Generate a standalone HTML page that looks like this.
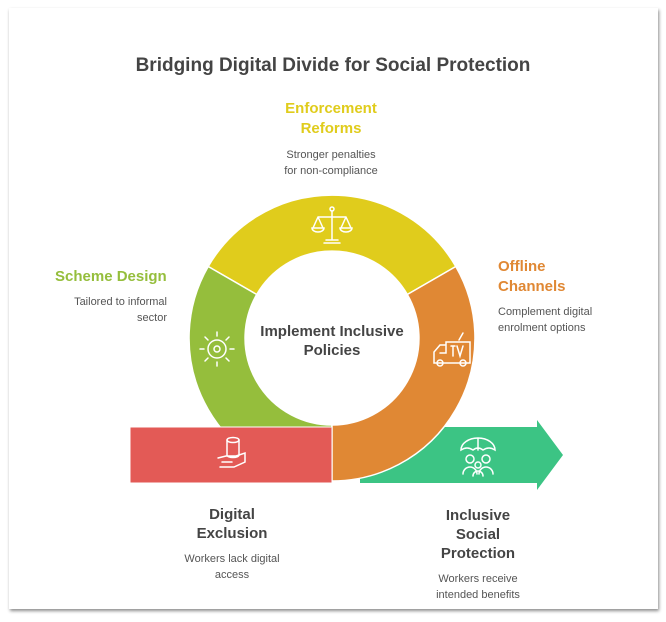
<!DOCTYPE html>
<html><head><meta charset="utf-8"><style>
html,body{margin:0;padding:0;background:#fff;width:666px;height:622px;overflow:hidden}
svg{display:block}
text{font-family:"Liberation Sans",sans-serif}
</style></head><body>
<svg width="666" height="622" viewBox="0 0 666 622">
<defs><filter id="sh" x="-5%" y="-5%" width="110%" height="110%"><feDropShadow dx="1" dy="2" stdDeviation="1.5" flood-color="#000" flood-opacity="0.45"/></filter></defs>
<rect x="9" y="8" width="649" height="601" fill="#fff" filter="url(#sh)"/>
<text x="333" y="71" text-anchor="middle" font-size="19" font-weight="bold" fill="#444">Bridging Digital Divide for Social Protection</text>
<g font-weight="bold" font-size="15">
<text x="331" y="113" text-anchor="middle" fill="#e0cc1c">Enforcement</text>
<text x="331" y="133" text-anchor="middle" fill="#e0cc1c">Reforms</text>
<text x="55" y="281" fill="#95be3c">Scheme Design</text>
<text x="498" y="271" fill="#e08834">Offline</text>
<text x="498" y="291" fill="#e08834">Channels</text>
<text x="232" y="519" text-anchor="middle" fill="#444">Digital</text>
<text x="232" y="538" text-anchor="middle" fill="#444">Exclusion</text>
<text x="478" y="520" text-anchor="middle" fill="#444">Inclusive</text>
<text x="478" y="539" text-anchor="middle" fill="#444">Social</text>
<text x="478" y="558" text-anchor="middle" fill="#444">Protection</text>
</g>
<g font-size="11" fill="#555">
<text x="331" y="158" text-anchor="middle">Stronger penalties</text>
<text x="331" y="174" text-anchor="middle">for non-compliance</text>
<text x="167" y="305" text-anchor="end">Tailored to informal</text>
<text x="167" y="321" text-anchor="end">sector</text>
<text x="498" y="315">Complement digital</text>
<text x="498" y="331">enrolment options</text>
<text x="232" y="562" text-anchor="middle">Workers lack digital</text>
<text x="232" y="578" text-anchor="middle">access</text>
<text x="478" y="582" text-anchor="middle">Workers receive</text>
<text x="478" y="598" text-anchor="middle">intended benefits</text>
</g>
<!-- green arrow -->
<path d="M360 427 L537 427 L537 420 L563 455 L537 490 L537 483 L360 483 Z" fill="#3cc484"/>
<!-- ring -->
<path d="M208.2 266.5 A143 143 0 0 1 455.8 266.5 L407.3 294.5 A87 87 0 0 0 256.7 294.5 Z" fill="#e0cc1c" stroke="#fff" stroke-width="1.5"/>
<path d="M208.2 266.5 A143 143 0 0 0 332 481 L332 425 A87 87 0 0 1 256.7 294.5 Z" fill="#95be3c" stroke="#fff" stroke-width="1.5"/>
<path d="M455.8 266.5 A143 143 0 0 1 332 481 L332 425 A87 87 0 0 0 407.3 294.5 Z" fill="#e08834" stroke="#fff" stroke-width="1.5"/>
<rect x="130" y="427" width="202" height="56" fill="#e35a56" stroke="#fff" stroke-width="1"/>
<text x="332" y="336" text-anchor="middle" font-size="15" font-weight="bold" fill="#444">Implement Inclusive</text>
<text x="332" y="355" text-anchor="middle" font-size="15" font-weight="bold" fill="#444">Policies</text>
<!-- icons -->
<g fill="none" stroke="#fff" stroke-width="1.5" stroke-linecap="round">
<!-- scales -->
<path d="M332 211 V240 M318 217 H346 M318 217 L313 228 M318 217 L323 228 M346 217 L341 228 M346 217 L351 228 M312 228 A6 4 0 0 0 324 228 Z M340 228 A6 4 0 0 0 352 228 Z M324 243 H340 M326 240 H338"/>
<circle cx="332" cy="209" r="2"/>
<!-- sun -->
<circle cx="217" cy="349" r="9"/><circle cx="217" cy="349" r="3"/>
<path d="M217 332 V336 M217 362 V366 M200 349 H204 M230 349 H234 M205 337 L208 340 M226 358 L229 361 M229 337 L226 340 M208 358 L205 361"/>
<!-- van -->
<path d="M446 342 H470 V363 H434 V352 L440 345 H446 Z M440 353 H446 V346"/>
<circle cx="440" cy="363" r="3"/><circle cx="463" cy="363" r="3"/>
<path d="M451 346 H455 M453 346 V356 M457 346 L460 356 L463 346 M459 340 L463 333"/>
<!-- hand/cup -->
<ellipse cx="233" cy="440" rx="6" ry="2.5"/>
<path d="M227 440 V455 A6 2.5 0 0 0 239 455 V440 M218 458 L226 456 H236 L245 453 V462 L234 467 H220 M222 462 H232"/>
<!-- umbrella people -->
<path d="M461 450 A17 12 0 0 1 495 450 Q489 446 483 450 Q478 446 473 450 Q467 446 461 450 Z M478 438 V450"/>
<circle cx="470" cy="459" r="4"/><circle cx="486" cy="459" r="4"/><circle cx="478" cy="465" r="3"/>
<path d="M463 474 A7 7 0 0 1 477 474 M479 474 A7 7 0 0 1 493 474 M473 476 A5 5 0 0 1 483 476"/>
</g>
</svg>
</body></html>
